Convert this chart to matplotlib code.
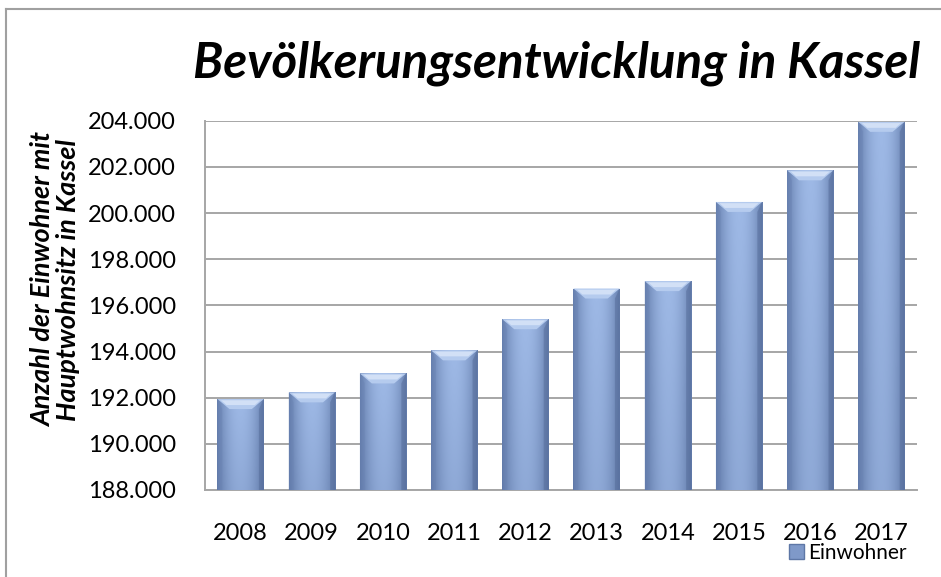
import numpy as np
import matplotlib
matplotlib.use("Agg")
import matplotlib.pyplot as plt
from matplotlib.patches import Polygon, Patch
from matplotlib.lines import Line2D
from matplotlib.ticker import FuncFormatter, MultipleLocator

years = ["2008", "2009", "2010", "2011", "2012", "2013", "2014", "2015", "2016", "2017"]
einwohner = [191940, 192230, 193050, 194050, 195400, 196730, 197050, 200480, 201850, 203950]
y_min, y_max, y_step = 188000, 204000, 2000
title = "Bevölkerungsentwicklung in Kassel"
ylabel = "Anzahl der Einwohner mit\nHauptwohnsitz in Kassel"
legend_label = "Einwohner"

FONT = "Lato"
W, H = 941, 577
fig = plt.figure(figsize=(W / 100, H / 100), dpi=100)
ax = fig.add_axes([205 / W, 1 - 490 / H, (917 - 205) / W, (490 - 120.7) / H])

x = np.arange(len(years))
bars = ax.bar(x, np.array(einwohner) - y_min, bottom=y_min, width=0.65,
              color="#8AA5D6", zorder=3, linewidth=0)

ax.set_xlim(-0.5, len(years) - 0.5)
ax.set_ylim(y_min, y_max)
ax.yaxis.set_major_locator(MultipleLocator(y_step))
ax.yaxis.set_major_formatter(FuncFormatter(lambda v, p: f"{int(v):,}".replace(",", ".")))
ax.set_xticks(x)
ax.set_xticklabels(years)
ax.grid(axis="y", color="#A6A6A6", linewidth=1.4, zorder=0)
ax.tick_params(axis="both", length=0, labelsize=17, colors="black")
ax.tick_params(axis="y", pad=21)
ax.tick_params(axis="x", pad=24)
for lab in ax.get_xticklabels() + ax.get_yticklabels():
    lab.set_fontfamily(FONT)
for s in ["top", "right"]:
    ax.spines[s].set_visible(False)
for s in ["left", "bottom"]:
    ax.spines[s].set_color("#A6A6A6")
    ax.spines[s].set_linewidth(1.4)

# gradient fill for bars
nx = 64
prof_x = np.linspace(-1, 1, nx)
horiz = 1 - 0.55 * prof_x ** 2
ny = 64
vert = np.linspace(0.85, 1.0, ny)[:, None]
shade = vert * horiz[None, :]
dark = np.array([0x5E, 0x77, 0xA6]) / 255
light = np.array([0x9E, 0xB9, 0xE6]) / 255
img = dark[None, None, :] + (light - dark)[None, None, :] * ((shade - shade.min()) / (shade.max() - shade.min()))[:, :, None]

px_per_unit_y = (490 - 120.7) / (y_max - y_min)
px_per_unit_x = (917 - 205) / len(years)
for b in bars:
    x0, y0 = b.get_x(), b.get_y()
    w, h = b.get_width(), b.get_height()
    im = ax.imshow(img, extent=[x0, x0 + w, y0, y0 + h], origin="lower",
                   aspect="auto", zorder=3.1, interpolation="bilinear")
    im.set_clip_path(b)
    dy = 10 / px_per_unit_y
    dx = 12 / px_per_unit_x
    top = y0 + h
    # subtle side edges
    ax.add_patch(Polygon([[x0, y0], [x0, top], [x0 + dx * 0.4, top - dy], [x0 + dx * 0.4, y0]],
                         closed=True, facecolor="#6A83B3", edgecolor="none", alpha=0.45, zorder=3.15))
    ax.add_patch(Polygon([[x0 + w, y0], [x0 + w, top], [x0 + w - dx * 0.4, top - dy], [x0 + w - dx * 0.4, y0]],
                         closed=True, facecolor="#556C99", edgecolor="none", alpha=0.5, zorder=3.15))
    # top bevel
    bevel = Polygon([[x0, top], [x0 + w, top], [x0 + w - dx, top - dy], [x0 + dx, top - dy]],
                    closed=True, facecolor="#B5CBEE", edgecolor="none", zorder=3.2)
    ax.add_patch(bevel)
    ax.add_patch(Polygon([[x0 + dx * 0.3, top - dy * 0.12], [x0 + w - dx * 0.3, top - dy * 0.12],
                          [x0 + w - dx * 0.75, top - dy * 0.6], [x0 + dx * 0.75, top - dy * 0.6]],
                         closed=True, facecolor="#D2E0F6", edgecolor="none", zorder=3.25))

fig.text(557 / W, 1 - 63 / H, title, ha="center", va="center", fontsize=35.5,
         fontweight="bold", fontstyle="italic", family=FONT)
fig.text(56 / W, 1 - 280 / H, ylabel, ha="center", va="center", rotation=90,
         fontsize=19.5, fontweight="bold", fontstyle="italic", family=FONT, linespacing=1.05)

handle = Patch(facecolor="#7F99C9", edgecolor="#5E77A6")
leg = fig.legend([handle], [legend_label], loc="center right", bbox_to_anchor=(915 / W, 1 - 553 / H),
                 frameon=False, prop={"family": FONT, "size": 15}, handlelength=0.7, handleheight=0.7,
                 handletextpad=0.2, borderaxespad=0)

# figure border (left and top)
fig.add_artist(Line2D([6 / W, 6 / W], [0, 1 - 9 / H], transform=fig.transFigure, color="#A0A0A0", lw=1.5))
fig.add_artist(Line2D([6 / W, 1], [1 - 9 / H, 1 - 9 / H], transform=fig.transFigure, color="#A0A0A0", lw=1.5))

fig.savefig("out.png", dpi=100)
